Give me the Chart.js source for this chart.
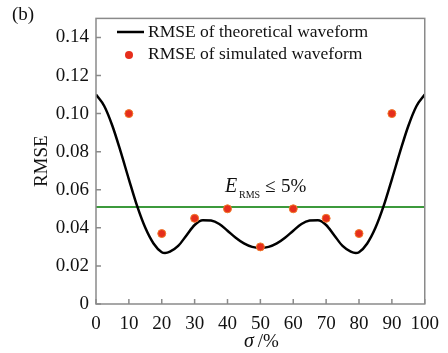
<!DOCTYPE html>
<html>
<head>
<meta charset="utf-8">
<script src="https://cdn.jsdelivr.net/npm/chart.js@4/dist/chart.umd.min.js"></script>
<style>
  html, body { margin: 0; padding: 0; background: #fff; }
  #wrap { width: 448px; height: 353px; }
</style>
</head>
<body>
<div id="wrap"><canvas id="rmseChart" width="448" height="353"></canvas></div>
<script>
// theoretical waveform RMSE
const sigmaTheory = [0, 2.5, 5, 7.5, 10, 12.5, 15, 17.5, 20, 21, 22.5, 25, 27.5, 30, 32.5, 35, 37.5, 40, 42.5, 45, 47.5, 50,
  52.5, 55, 57.5, 60, 62.5, 65, 67.5, 70, 72.5, 75, 77.5, 79, 80, 82.5, 85, 87.5, 90, 92.5, 95, 97.5, 100];
const rmseTheory = [0.110, 0.104, 0.0935, 0.080, 0.0655, 0.0515, 0.040, 0.0318, 0.0272, 0.0268, 0.0275, 0.0305, 0.036, 0.0415, 0.0440, 0.0438, 0.0420, 0.0385, 0.0348, 0.0318, 0.0300, 0.0295,
  0.0300, 0.0318, 0.0348, 0.0385, 0.0420, 0.0438, 0.0440, 0.0415, 0.036, 0.0305, 0.0275, 0.0268, 0.0272, 0.0318, 0.040, 0.0515, 0.0655, 0.080, 0.0935, 0.104, 0.110];

// simulated waveform RMSE
const sigmaSim = [10, 20, 30, 40, 50, 60, 70, 80, 90];
const rmseSim = [0.100, 0.037, 0.045, 0.050, 0.030, 0.050, 0.045, 0.037, 0.100];

const rmsLimit = 0.051;
const xTicks = [0, 10, 20, 30, 40, 50, 60, 70, 80, 90, 100];
const yTicks = [0, 0.02, 0.04, 0.06, 0.08, 0.10, 0.12, 0.14];

const serif = '"Liberation Serif", "DejaVu Serif", serif';

const extras = {
  id: 'extras',
  afterDraw(chart) {
    const ctx = chart.ctx;
    const a = chart.chartArea;
    const xs = chart.scales.x, ys = chart.scales.y;
    ctx.save();
    // frame
    ctx.strokeStyle = '#8a8a8a';
    ctx.lineWidth = 1.5;
    ctx.strokeRect(a.left, a.top, a.right - a.left, a.bottom - a.top);
    // inner ticks
    ctx.beginPath();
    xTicks.forEach(v => {
      const px = xs.getPixelForValue(v);
      ctx.moveTo(px, a.bottom); ctx.lineTo(px, a.bottom - 5);
    });
    yTicks.forEach(v => {
      const py = ys.getPixelForValue(v);
      ctx.moveTo(a.left, py); ctx.lineTo(a.left + 5, py);
    });
    ctx.stroke();

    // legend
    ctx.fillStyle = '#111';
    ctx.font = '17.5px ' + serif;
    ctx.textBaseline = 'middle';
    ctx.textAlign = 'left';
    ctx.strokeStyle = '#000';
    ctx.lineWidth = 2.5;
    ctx.beginPath(); ctx.moveTo(117, 32); ctx.lineTo(144, 32); ctx.stroke();
    ctx.fillText('RMSE of theoretical waveform', 148, 32);
    ctx.fillStyle = '#e62e1c';
    ctx.beginPath(); ctx.arc(129, 55, 4, 0, Math.PI * 2); ctx.fill();
    ctx.fillStyle = '#111';
    ctx.fillText('RMSE of simulated waveform', 148, 54);

    // E_RMS annotation
    ctx.font = 'italic 20px ' + serif;
    ctx.fillText('E', 225, 187);
    ctx.font = '10px ' + serif;
    ctx.fillText('RMS', 239, 195);
    ctx.font = '19px ' + serif;
    ctx.fillText('\u2264', 265, 187);
    ctx.fillText('5%', 281, 187);

    // panel label
    ctx.font = '19px ' + serif;
    ctx.fillText('(b)', 12, 15);

    // axis titles
    ctx.textAlign = 'center';
    ctx.save();
    ctx.translate(42, (a.top + a.bottom) / 2);
    ctx.rotate(-Math.PI / 2);
    ctx.font = '19px ' + serif;
    ctx.fillText('RMSE', 0, 0);
    ctx.restore();
    ctx.textAlign = 'left';
    ctx.font = 'italic 20px ' + serif;
    ctx.fillText('\u03c3', 244, 342);
    ctx.font = '19px ' + serif;
    ctx.fillText(' /%', 253, 342);
    ctx.restore();
  }
};

new Chart(document.getElementById('rmseChart'), {
  type: 'scatter',
  data: {
    datasets: [
      {
        label: 'RMSE of simulated waveform',
        data: sigmaSim.map((s, i) => ({ x: s, y: rmseSim[i] })),
        backgroundColor: '#e62e1c',
        borderColor: '#f07a2a',
        borderWidth: 1,
        pointRadius: 4
      },
      {
        type: 'line',
        label: 'RMSE of theoretical waveform',
        data: sigmaTheory.map((s, i) => ({ x: s, y: rmseTheory[i] })),
        borderColor: '#000',
        borderWidth: 2.5,
        pointRadius: 0,
        cubicInterpolationMode: 'monotone',
        fill: false
      },
      {
        type: 'line',
        label: 'limit',
        data: [{ x: 0, y: rmsLimit }, { x: 100, y: rmsLimit }],
        borderColor: '#3c9a3c',
        borderWidth: 2,
        pointRadius: 0
      }
    ]
  },
  options: {
    responsive: false,
    animation: false,
    layout: { padding: { left: 0, right: 16, top: 15, bottom: 0 } },
    plugins: {
      legend: { display: false },
      tooltip: { enabled: false }
    },
    scales: {
      x: {
        type: 'linear',
        min: 0, max: 100,
        afterBuildTicks: axis => { axis.ticks = xTicks.map(v => ({ value: v })); },
        afterFit: scale => { scale.height = 49; },
        grid: { display: false, drawTicks: false },
        border: { display: false },
        ticks: {
          color: '#111',
          padding: 9,
          maxRotation: 0,
          font: { family: serif, size: 19 }
        }
      },
      y: {
        min: 0, max: 0.15,
        afterBuildTicks: axis => { axis.ticks = yTicks.map(v => ({ value: v })); },
        afterFit: scale => { scale.width = 96; },
        grid: { display: false, drawTicks: false },
        border: { display: false },
        ticks: {
          color: '#111',
          padding: 7,
          font: { family: serif, size: 19 },
          callback: v => v === 0 ? '0' : v.toFixed(2)
        }
      }
    }
  },
  plugins: [extras]
});
</script>
</body>
</html>
